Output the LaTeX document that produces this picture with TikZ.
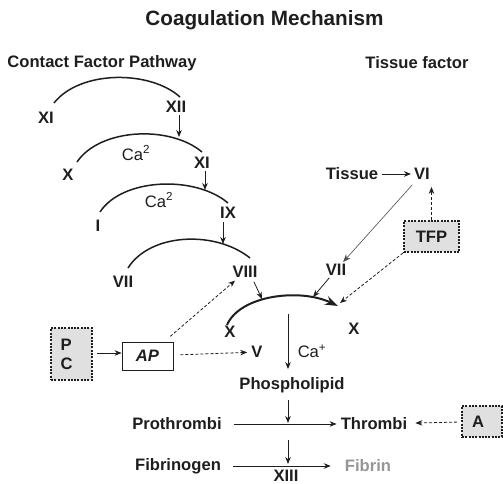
\documentclass[tikz,border=0pt]{standalone}
\usepackage{fontspec}
\setmainfont{Liberation Sans}
\usetikzlibrary{arrows.meta}
\definecolor{ink}{RGB}{30,30,30}
\definecolor{boxgray}{RGB}{224,224,224}
\definecolor{fibringray}{RGB}{150,150,150}
\begin{document}
\begin{tikzpicture}[x=1pt,y=-1pt,
  lbl/.style={font=\fontsize{16.6}{18}\selectfont\bfseries, text=ink, inner sep=2pt},
  calbl/.style={font=\fontsize{16.6}{18}\selectfont, text=ink, inner sep=1pt},
  titlelbl/.style={font=\fontsize{20.7}{23}\selectfont\bfseries, text=ink, inner sep=0pt},
  arcline/.style={draw=ink, line width=1.5pt},
  arr/.style={draw=ink, line width=0.8pt, -{Stealth[length=7pt,width=5.5pt]}},
  thinarr/.style={draw=ink!80, line width=0.6pt, -{Stealth[length=8pt,width=6pt]}},
  darr/.style={arr, dash pattern=on 3pt off 2pt},
  dbox/.style={draw=ink, fill=boxgray, line width=2pt, dash pattern=on 2pt off 1.3pt, inner sep=0pt,
    font=\fontsize{16.6}{18}\selectfont\bfseries, text=ink},
  sbox/.style={draw=ink, fill=white, line width=0.8pt, inner sep=0pt,
    font=\fontsize{16.6}{18}\selectfont\bfseries\itshape, text=ink},
]
\useasboundingbox (0,0) rectangle (503,484);

% titles
\node[titlelbl] (title) at (264.5,20) {Coagulation Mechanism};
\node[lbl] (cfp) at (102,63) {Contact Factor Pathway};
\node[lbl] (tf) at (417,63) {Tissue factor};

% cascade labels
\node[lbl] (xi1) at (46,118) {XI};
\node[lbl] (xii) at (176,107) {XII};
\node[calbl] (ca1) at (136,153) {Ca\textsuperscript{2}};
\node[lbl] (x1) at (68,175) {X};
\node[lbl] (xi2) at (202,163) {XI};
\node[calbl] (ca2) at (159,200) {Ca\textsuperscript{2}};
\node[lbl] (i1) at (98,226) {I};
\node[lbl] (ix) at (228,213) {IX};
\node[lbl] (vii1) at (123,282) {VII};
\node[lbl] (viii) at (245,272) {VIII};
\node[lbl] (x2) at (230,332) {X};
\node[lbl] (x3) at (354,329) {X};
\node[lbl] (vii2) at (336,270) {VII};
\node[lbl] (tissue) at (352,174) {Tissue};
\node[lbl] (vi) at (422,174) {VI};
\node[dbox, minimum width=55, minimum height=31] (tfp) at (431.5,236.5) {TFP};
\node[calbl] (caplus) at (312,351) {Ca\textsuperscript{+}};
\node[lbl] (v) at (257,352) {V};
\node[dbox, minimum width=41, minimum height=52, align=left, text width=22pt] (pc) at (71.5,354) {P\\[1pt]C};
\node[sbox, minimum width=51, minimum height=28] (ap) at (147.5,356) {AP};
\node[lbl] (phospho) at (292,385) {Phospholipid};
\node[lbl] (proth) at (177,424) {Prothrombi};
\node[lbl] (thromb) at (374,424) {Thrombi};
\node[dbox, minimum width=40, minimum height=31] (abox) at (482,421.5) {\hspace*{-8pt}A};
\node[lbl] (fibgen) at (178,466) {Fibrinogen};
\node[lbl, text=fibringray] (fibrin) at (368,466) {Fibrin};
\node[lbl] (xiii) at (286,476) {XIII};

% arcs
\draw[arcline] (54,103) .. controls (80,70) and (150,70) .. (180,97);
\draw[arcline] (77,162) .. controls (100,128) and (170,125) .. (202,152);
\draw[arcline] (100,212) .. controls (122,178) and (195,175) .. (228,203);
\draw[arcline] (128,268) .. controls (150,233) and (215,230) .. (250,258);
\draw[draw=ink, line width=2pt, -{Stealth[length=13pt,width=9pt]}]
  (227,325) .. controls (240,295) and (300,288) .. (338,306);

% target coordinates
\coordinate (t1) at (179,137);
\coordinate (t2) at (205,190);
\coordinate (t3) at (223,244);
\coordinate (t4) at (262,299);
\coordinate (t5) at (313,297);
\coordinate (t6) at (340,303);
\coordinate (s1) at (288,314);
\coordinate (m1) at (288,423);
\coordinate (m2) at (288,440);
\coordinate (m3) at (288,464);

% cascade arrows
\draw[arr] (t1 |- xii.south) -- (t1);
\draw[arr] (t2 |- xi2.south) -- (t2);
\draw[arr, shorten <=1pt] (t3 |- ix.south) -- (t3);
\draw[arr, shorten <=2pt] ([xshift=8pt]viii.south) -- (t4);
\draw[darr, shorten <=8pt, shorten >=1pt] (ap) -- (viii);

% tissue factor side
\draw[arr, shorten <=2pt, shorten >=1pt] (tissue) -- (vi);
\draw[thinarr, shorten <=4pt] (vi) -- (vii2);
\draw[arr] (vii2) -- (t5);
\draw[darr, shorten >=5pt] (tfp.north) -- (tfp.north |- vi.south);
\draw[darr] (tfp.south west) -- (t6);

% lower part
\draw[arr, shorten >=6pt] (s1) -- (s1 |- phospho.north);
\draw[arr, shorten <=4pt] (pc.east |- 0,353) -- (ap.west |- 0,353);
\draw[darr, shorten <=7pt, shorten >=2pt] (ap) -- (v);
\draw[arr, shorten <=5pt] (m1 |- phospho.south) -- (m1);
\draw[arr, shorten <=10pt, shorten >=2pt] (proth) -- (thromb);
\draw[darr, shorten <=4pt, shorten >=6pt] (abox) -- (thromb);
\draw[arr] (m2) -- (m3);
\draw[arr, shorten <=10pt, shorten >=12pt] (fibgen) -- (fibrin);
\end{tikzpicture}
\end{document}
